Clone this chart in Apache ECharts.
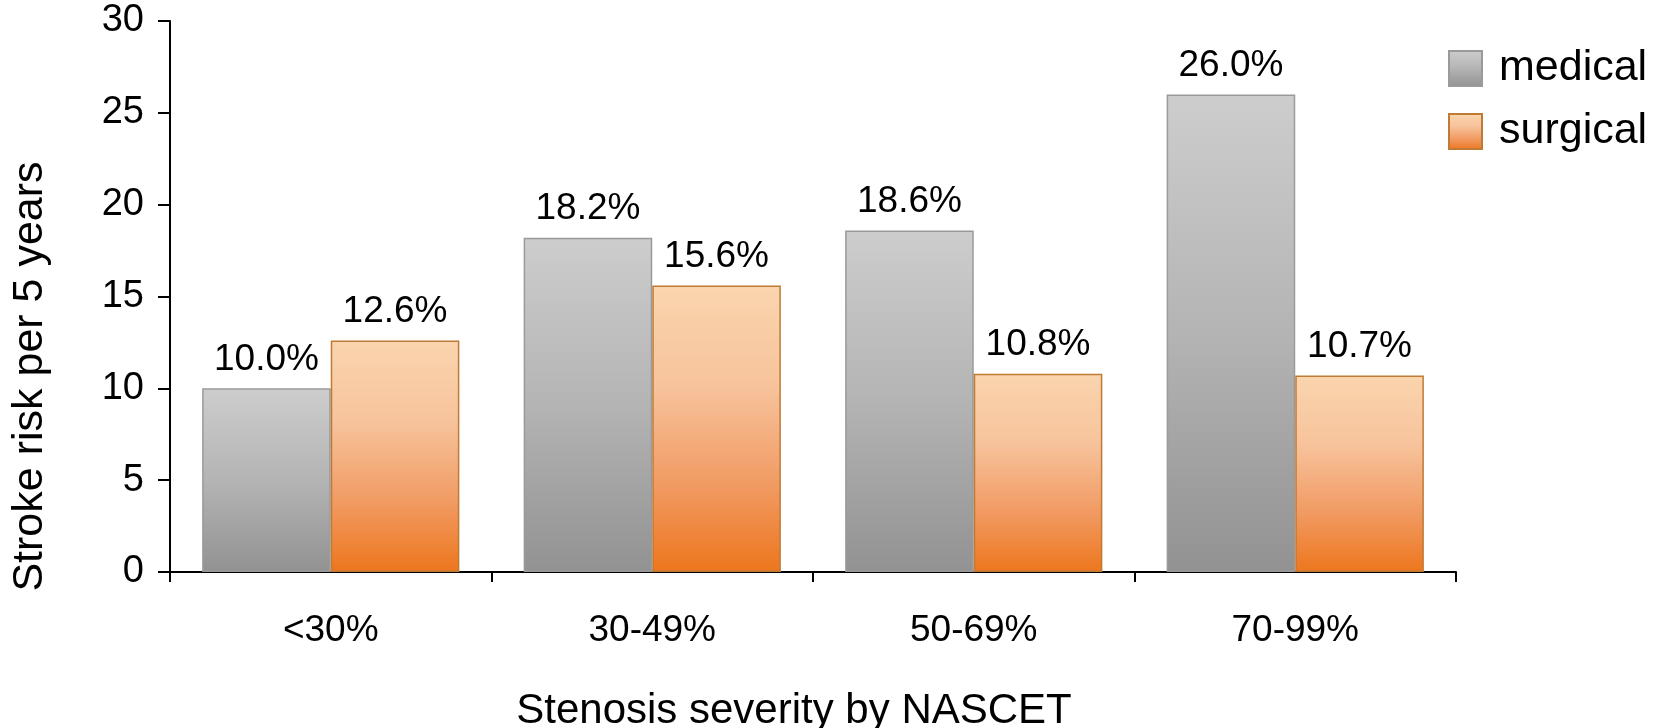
<!DOCTYPE html>
<html>
<head>
<meta charset="utf-8">
<script src="https://cdn.jsdelivr.net/npm/echarts@6/dist/echarts.min.js"></script>
<style>
html,body{margin:0;padding:0;background:#fff;}
#chart{width:1661px;height:728px;}
</style>
</head>
<body>
<div id="chart"></div>
<script>
const categories = ['<30%', '30-49%', '50-69%', '70-99%'];
const medical = [10.0, 18.2, 18.6, 26.0];
const surgical = [12.6, 15.6, 10.8, 10.7];
const seriesNames = ['medical', 'surgical'];
const yTicks = { min: 0, max: 30, interval: 5 };

const FONT = '"Liberation Sans", Arial, sans-serif';
const chart = echarts.init(document.getElementById('chart'), null, { renderer: 'canvas' });

const grayGrad = new echarts.graphic.LinearGradient(0, 0, 0, 1, [
  { offset: 0, color: '#cdcdcd' },
  { offset: 0.5, color: '#b4b4b4' },
  { offset: 1, color: '#929292' }
]);
const orangeGrad = new echarts.graphic.LinearGradient(0, 0, 0, 1, [
  { offset: 0, color: '#fad5ae' },
  { offset: 0.35, color: '#f7c39c' },
  { offset: 0.7, color: '#f19a62' },
  { offset: 1, color: '#ed761d' }
]);

const labelStyle = {
  show: true,
  position: 'top',
  distance: 10,
  fontFamily: FONT,
  fontSize: 37,
  color: '#000',
  formatter: p => p.value.toFixed(1) + '%'
};

chart.setOption({
  animation: false,
  textStyle: { fontFamily: FONT },
  grid: { left: 170, right: 205, top: 21, bottom: 156, containLabel: false, outerBoundsMode: 'none' },
  legend: {
    orient: 'vertical',
    left: 1443,
    top: 42,
    itemWidth: 33,
    itemHeight: 35,
    itemGap: 20,
    icon: 'rect',
    textStyle: { fontFamily: FONT, fontSize: 43, color: '#000', padding: [0, 0, 0, 12] },
    data: seriesNames
  },
  xAxis: {
    type: 'category',
    data: categories,
    name: 'Stenosis severity by NASCET',
    nameLocation: 'middle',
    nameGap: 118,
    nameTextStyle: { fontFamily: FONT, fontSize: 42, color: '#000', padding: [0, 38, 0, 0] },
    axisLine: { lineStyle: { color: '#000', width: 2 } },
    axisTick: { show: true, length: 10, lineStyle: { color: '#000', width: 2 } },
    axisLabel: { fontFamily: FONT, fontSize: 37, color: '#000', margin: 40 }
  },
  yAxis: {
    type: 'value',
    min: yTicks.min,
    max: yTicks.max,
    interval: yTicks.interval,
    name: 'Stroke risk per 5 years',
    nameLocation: 'middle',
    nameRotate: 90,
    nameGap: 118,
    nameTextStyle: { fontFamily: FONT, fontSize: 43, color: '#000', padding: [0, 160, 0, 0] },
    axisLine: { show: true, lineStyle: { color: '#000', width: 2 } },
    axisTick: { show: true, length: 12, lineStyle: { color: '#000', width: 2 } },
    axisLabel: { fontFamily: FONT, fontSize: 38, color: '#000', margin: 26 },
    splitLine: { show: false }
  },
  series: [
    {
      name: seriesNames[0],
      type: 'bar',
      data: medical,
      barGap: '0%',
      barCategoryGap: '20%',
      itemStyle: { color: grayGrad, borderColor: '#9a9a9a', borderWidth: 1.5 },
      label: labelStyle
    },
    {
      name: seriesNames[1],
      type: 'bar',
      data: surgical,
      barGap: '0%',
      barCategoryGap: '20%',
      itemStyle: { color: orangeGrad, borderColor: '#bf7a36', borderWidth: 1.5 },
      label: labelStyle
    }
  ]
});
</script>
</body>
</html>
